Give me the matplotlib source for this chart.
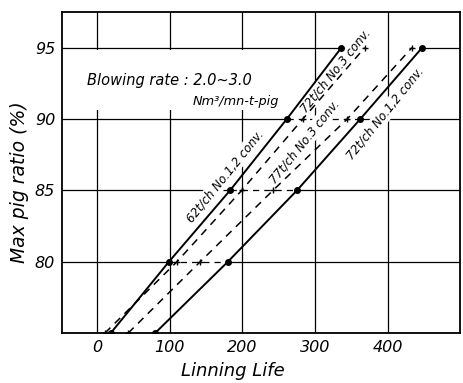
import matplotlib
matplotlib.use("Agg")
import matplotlib.pyplot as plt
from matplotlib.patches import Rectangle

# y values shared by all curves (max pig ratio, %)
pig_ratio = [75, 80, 85, 90, 95]

# lining life at those ratios
life_62t_no12 = [19, 99, 183, 261, 336]
life_72t_no3 = [11, 110, 199, 283, 368]
life_77t_no3 = [43, 142, 242, 344, 433]
life_72t_no12 = [80, 180, 275, 362, 447]

x_ticks = [0, 100, 200, 300, 400]
y_ticks = [80, 85, 90, 95]

XMIN, XMAX = -48, 499

fig = plt.figure(figsize=(4.63, 3.83), dpi=100)
ax = fig.add_axes([0.134, 0.1305, 0.8595, 0.8382])

for v in x_ticks:
    ax.axvline(v, color="black", lw=0.9, zorder=1)

# horizontal grid: solid outside the bundle of curves, dashed between them
for i, v in enumerate(pig_ratio):
    if v not in y_ticks:
        continue
    left, right = life_62t_no12[i], life_72t_no12[i]
    ax.plot([XMIN, left], [v, v], color="black", lw=0.9, zorder=1)
    ax.plot([right, XMAX], [v, v], color="black", lw=0.9, zorder=1)
    if v < 95:
        ax.plot([left, right], [v, v], color="black", lw=0.9,
                dashes=(5, 4), zorder=1)

# blank patch behind the note, the grid is broken there in the original
ax.add_patch(Rectangle((XMIN, 90.6), 255 - XMIN, 4.25, facecolor="white",
                       edgecolor="none", zorder=1.5))

ax.plot(life_62t_no12, pig_ratio, "-", color="black", lw=1.4,
        marker="o", ms=4, zorder=3)
ax.plot(life_72t_no3, pig_ratio, "--", color="black", lw=1.1,
        dashes=(5, 4), marker="+", ms=5, zorder=3)
ax.plot(life_77t_no3, pig_ratio, "--", color="black", lw=1.1,
        dashes=(5, 4), marker="+", ms=5, zorder=3)
ax.plot(life_72t_no12, pig_ratio, "-", color="black", lw=1.4,
        marker="o", ms=4, zorder=3)

ax.set_xlim(XMIN, XMAX)
ax.set_ylim(75, 97.5)
ax.set_xticks(x_ticks)
ax.set_yticks(y_ticks)
ax.set_xticklabels([str(v) for v in x_ticks], style="italic", fontsize=11.5)
ax.set_yticklabels([str(v) for v in y_ticks], style="italic", fontsize=11.5)
ax.tick_params(length=0, pad=5)
for s in ax.spines.values():
    s.set_linewidth(1.3)

ax.set_xlabel("Linning Life", style="italic", fontsize=13, labelpad=5)
ax.xaxis.label.set_x(0.43)
ax.set_ylabel("Max pig ratio (%)", style="italic", fontsize=13.5, labelpad=4)
ax.yaxis.label.set_y(0.47)

ax.text(-14, 92.4, "Blowing rate : 2.0~3.0", style="italic", fontsize=10.5,
        zorder=2)
ax.text(131, 91.0, "Nm³/mn-t-pig", style="italic", fontsize=9.3, zorder=2)

lbl = dict(style="italic", fontsize=8.5, rotation=51, ha="center",
           va="center", zorder=2,
           bbox=dict(facecolor="white", edgecolor="none", pad=1.0))
ax.text(176, 86.0, "62t/ch No.1,2 conv.", **lbl)
ax.text(328, 93.4, "72t/ch No.3 conv.", **lbl)
ax.text(285, 88.4, "77t/ch No.3 conv.", **lbl)
ax.text(396, 90.4, "72t/ch No.1,2 conv.", **lbl)

fig.savefig("out.png", dpi=100)
